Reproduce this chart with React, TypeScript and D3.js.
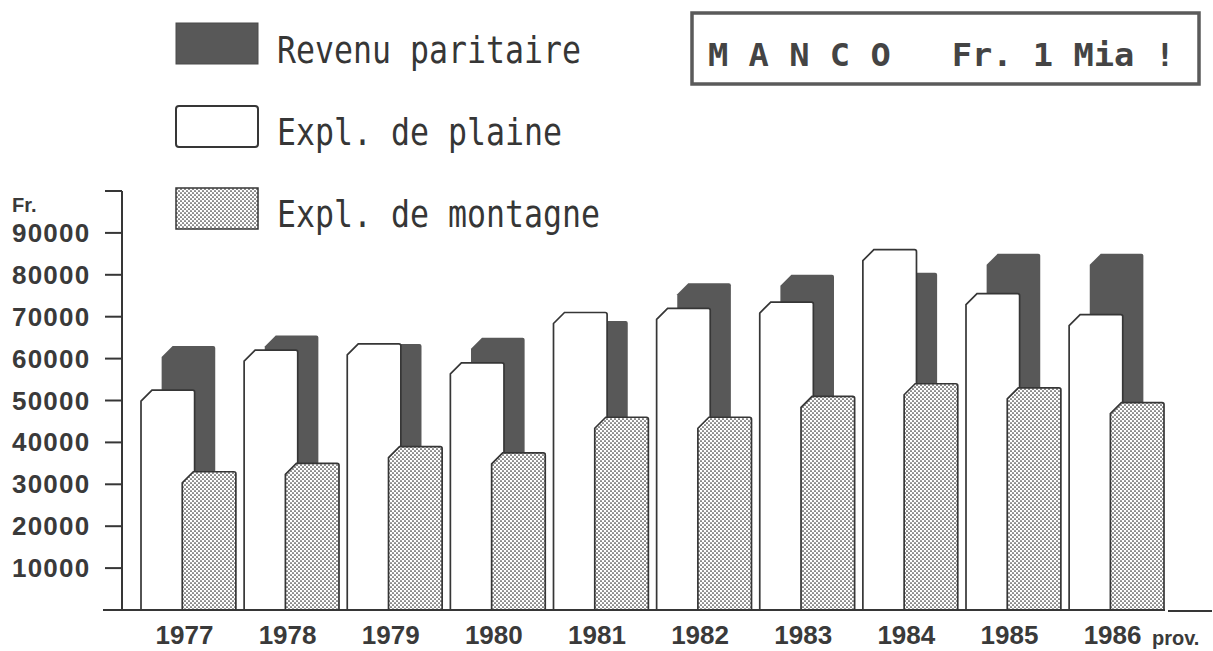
import React from 'react'
import * as d3 from 'd3'

// values (Fr.)
const years = ['1977', '1978', '1979', '1980', '1981', '1982', '1983', '1984', '1985', '1986']
const plaine = [52500, 62000, 63500, 59000, 71000, 72000, 73500, 86000, 75500, 70500]
const revenu = [63000, 65500, 63500, 65000, 69000, 78000, 80000, 80500, 85000, 85000]
const montagne = [33000, 35000, 39000, 37500, 46000, 46000, 51000, 54000, 53000, 49500]
const yTicks = [10000, 20000, 30000, 40000, 50000, 60000, 70000, 80000, 90000]
const legendLabels = ['Revenu paritaire', 'Expl. de plaine', 'Expl. de montagne']
const banner = 'M A N C O   Fr. 1 Mia !'

const ink = '#363636'
const dark = '#585858'

// bar with a cut top-left corner
const barPath = (x: number, w: number, top: number, base: number) => {
  const c = 11
  return `M${x},${base}V${top + c}L${x + c},${top}H${x + w - 2}Q${x + w},${top} ${x + w},${top + 2}V${base}Z`
}

const App = () => {
  const width = 1213
  const height = 651

  const y = d3.scaleLinear().domain([0, 100000]).range([610, 191])
  const x = d3.scaleBand().domain(years).range([141, 1164]).paddingInner(0.08).paddingOuter(0)
  const bw = x.bandwidth()
  const barW = bw * 0.565
  const sub = d3.scalePoint().domain(['plaine', 'revenu', 'montagne']).range([0, bw - barW])
  const base = y(0)

  return (
    <svg width={width} height={height} style={{ position: 'absolute', left: 0, top: 0, display: 'block', background: '#fff' }}>
      <defs>
        <pattern id="dots" width="4" height="4" patternUnits="userSpaceOnUse">
          <rect width="4" height="4" fill="#fff" />
          <circle cx="1" cy="1" r="0.85" fill="#2e2e2e" />
          <circle cx="3" cy="3" r="0.85" fill="#2e2e2e" />
        </pattern>
      </defs>

      {/* legend */}
      <rect x={176} y={23} width={82} height={41} fill={dark} stroke="#4a4a4a" strokeWidth={1} />
      <rect x={176} y={106} width={82} height={41} rx={3} fill="#fff" stroke={ink} strokeWidth={2} />
      <rect x={176} y={188} width={82} height={41} fill="url(#dots)" stroke={ink} strokeWidth={1.5} />
      {legendLabels.map((t, i) => (
        <text key={t} x={277} y={63 + i * 82} fontFamily="DejaVu Sans Mono" fontSize={38} fill={ink}
          textLength={t.length * 19} lengthAdjust="spacingAndGlyphs">{t}</text>
      ))}

      {/* banner */}
      <rect x={692} y={13} width={507} height={71} fill="none" stroke="#5a5a5a" strokeWidth={3.5} />
      <text x={708} y={66} fontFamily="DejaVu Sans Mono" fontWeight="bold" fontSize={32} fill="#444"
        style={{ whiteSpace: 'pre' }}
        textLength={(banner.length - 1) * 20.5 + 16} lengthAdjust="spacingAndGlyphs">{banner}</text>

      {/* y axis */}
      <line x1={122} x2={122} y1={y(100000)} y2={base} stroke={ink} strokeWidth={2} />
      {[...yTicks, 100000].map(t => (
        <line key={t} x1={105} x2={122} y1={y(t)} y2={y(t)} stroke={ink} strokeWidth={2} />
      ))}
      {yTicks.map(t => (
        <text key={t} x={12} y={y(t) + 9} fontFamily="Liberation Sans" fontWeight="bold" fontSize={26}
          letterSpacing={1.2} fill="#3a3a3a">{t}</text>
      ))}
      <text x={12} y={212} fontFamily="Liberation Sans" fontWeight="bold" fontSize={20} fill="#3a3a3a">Fr.</text>

      {/* bars: revenu behind, plaine, montagne in front */}
      {years.map((yr, i) => (
        <path key={'r' + yr} d={barPath(x(yr)! + sub('revenu')!, barW, y(revenu[i]), base)} fill={dark} />
      ))}
      {years.map((yr, i) => (
        <path key={'p' + yr} d={barPath(x(yr)! + sub('plaine')!, barW, y(plaine[i]), base)}
          fill="#fff" stroke={ink} strokeWidth={1.7} />
      ))}
      {years.map((yr, i) => (
        <path key={'m' + yr} d={barPath(x(yr)! + sub('montagne')!, barW, y(montagne[i]), base)}
          fill="url(#dots)" stroke={ink} strokeWidth={1.7} />
      ))}

      {/* baseline */}
      <line x1={103} x2={1165} y1={base} y2={base} stroke={ink} strokeWidth={2} />
      <line x1={1168} x2={1212} y1={base + 1} y2={base + 1} stroke={ink} strokeWidth={2} />

      {/* x labels */}
      {years.map(yr => (
        <text key={'l' + yr} x={x(yr)! + bw / 2 - 4} y={644} textAnchor="middle" fontFamily="Liberation Sans"
          fontWeight="bold" fontSize={26} fill="#3a3a3a">{yr}</text>
      ))}
      <text x={1152} y={645} fontFamily="Liberation Sans" fontWeight="bold" fontSize={20} fill="#3a3a3a">prov.</text>
    </svg>
  )
}

export default App
